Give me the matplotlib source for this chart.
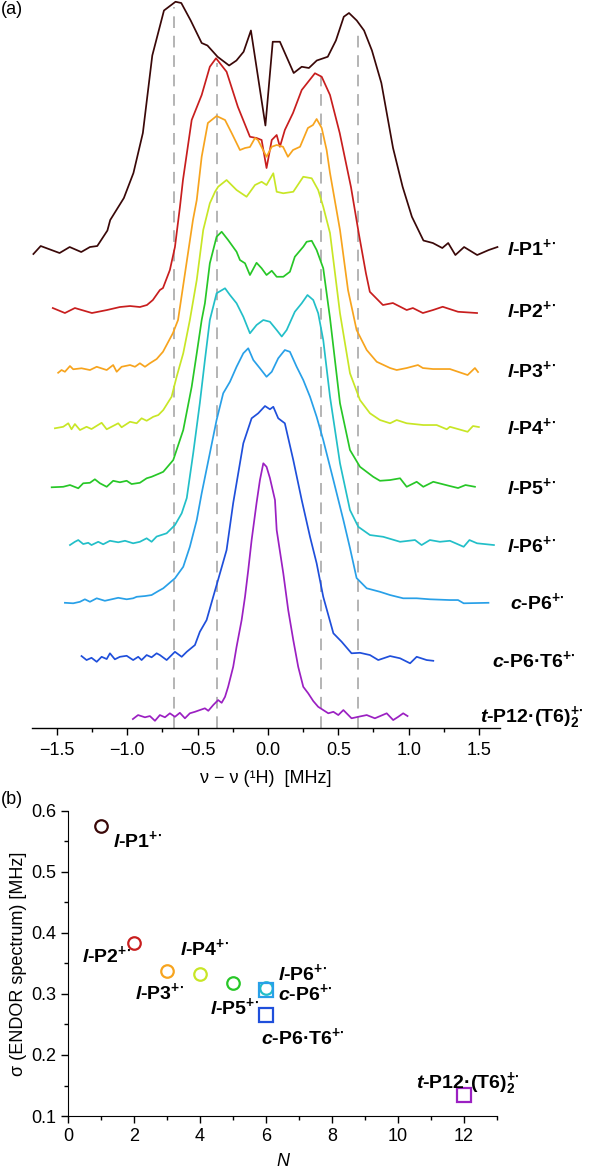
import matplotlib
matplotlib.use('Agg')
import matplotlib.pyplot as plt
from matplotlib.ticker import MultipleLocator

plt.rcParams['font.family'] = ['Liberation Sans', 'DejaVu Sans']
plt.rcParams['mathtext.fontset'] = 'custom'
plt.rcParams['mathtext.rm'] = 'Liberation Sans:bold'
plt.rcParams['mathtext.it'] = 'Liberation Sans:italic:bold'
plt.rcParams['mathtext.bf'] = 'Liberation Sans:bold'

# ---------------- data ----------------
labels = [r"$\mathit{l}$-P1$^{+\!\bullet}$", r"$\mathit{l}$-P2$^{+\!\bullet}$", r"$\mathit{l}$-P3$^{+\!\bullet}$",
          r"$\mathit{l}$-P4$^{+\!\bullet}$", r"$\mathit{l}$-P5$^{+\!\bullet}$", r"$\mathit{l}$-P6$^{+\!\bullet}$",
          r"$\mathit{c}$-P6$^{+\!\bullet}$", r"$\mathit{c}$-P6·T6$^{+\!\bullet}$", r"$\mathit{t}$-P12·(T6)$_2^{+\!\bullet}$"]
colors = ["#3a0808", "#c81e1e", "#f7a41e", "#c8e626", "#27c727", "#22bfc8", "#28a0e8", "#1f4fdb", "#9b20c2"]
offsets = [1.92, 1.672, 1.432, 1.204, 0.964, 0.732, 0.504, 0.272, 0.044]

freq_P1 = [-1.667, -1.615, -1.481, -1.409, -1.327, -1.265, -1.213, -1.141, -1.121, -1.024, -0.956, -0.889, -0.822,
           -0.739, -0.657, -0.616, -0.549, -0.471, -0.430, -0.358, -0.276, -0.224, -0.173, -0.121, -0.018, 0.034,
           0.085, 0.183, 0.240, 0.291, 0.347, 0.425, 0.483, 0.539, 0.576, 0.631, 0.683, 0.739, 0.806, 0.889, 0.957,
           1.023, 1.105, 1.172, 1.239, 1.281, 1.332, 1.394, 1.487, 1.569, 1.631]
int_P1 = [-0.024, 0.008, -0.02, 0.004, -0.016, 0.004, 0.008, 0.07, 0.112, 0.20, 0.30, 0.46, 0.77, 0.95, 0.985,
          0.98, 0.91, 0.82, 0.81, 0.765, 0.73, 0.75, 0.785, 0.87, 0.49, 0.825, 0.825, 0.70, 0.725, 0.72, 0.75,
          0.765, 0.83, 0.925, 0.94, 0.91, 0.87, 0.79, 0.66, 0.40, 0.245, 0.125, 0.03, 0.02, 0.0, 0.02, -0.028, 0.004,
          -0.028, -0.008, 0.004]

freq_P2 = [-1.529, -1.443, -1.372, -1.251, -1.144, -1.052, -0.980, -0.910, -0.860, -0.818, -0.768, -0.746, -0.697,
           -0.661, -0.626, -0.604, -0.542, -0.471, -0.413, -0.369, -0.294, -0.214, -0.128, -0.081, -0.045, -0.010,
           0.027, 0.062, 0.085, 0.120, 0.178, 0.240, 0.334, 0.382, 0.441, 0.510, 0.590, 0.645, 0.696, 0.724, 0.817,
           0.888, 0.986, 1.030, 1.101, 1.173, 1.242, 1.351, 1.486]
int_P2 = [0.008, -0.012, 0.008, -0.012, 0.0, 0.012, 0.016, 0.012, 0.02, 0.04, 0.08, 0.088, 0.16, 0.252, 0.41, 0.52,
          0.76, 0.86, 0.973, 1.007, 0.953, 0.813, 0.693, 0.688, 0.68, 0.568, 0.68, 0.70, 0.653, 0.72, 0.788, 0.88,
          0.947, 0.933, 0.86, 0.708, 0.492, 0.308, 0.148, 0.073, 0.02, 0.028, 0.0, 0.008, -0.012, 0.0, 0.013, -0.007,
          -0.012]

freq_P3 = [-1.491, -1.467, -1.443, -1.407, -1.384, -1.325, -1.265, -1.217, -1.146, -1.100, -1.075, -1.040, -0.980,
           -0.945, -0.910, -0.874, -0.839, -0.791, -0.746, -0.675, -0.639, -0.533, -0.506, -0.471, -0.427, -0.365,
           -0.305, -0.258, -0.199, -0.163, -0.128, -0.092, -0.071, -0.010, 0.027, 0.062, 0.107, 0.142, 0.178, 0.228,
           0.284, 0.320, 0.346, 0.382, 0.417, 0.441, 0.512, 0.569, 0.630, 0.702, 0.773, 0.868, 0.915, 0.986, 1.066,
           1.101, 1.173, 1.293, 1.419, 1.471, 1.493]
int_P3 = [-0.011, 0.0, -0.007, 0.016, 0.003, 0.007, 0.0, 0.013, 0.0, 0.02, -0.007, 0.013, 0.02, 0.013, 0.027, 0.013,
          0.027, 0.044, 0.073, 0.148, 0.20, 0.60, 0.68, 0.853, 0.988, 1.016, 1.0, 0.948, 0.88, 0.888, 0.892, 0.928,
          0.92, 0.853, 0.893, 0.90, 0.893, 0.853, 0.88, 0.893, 0.968, 0.98, 1.004, 0.968, 0.88, 0.788, 0.56, 0.32,
          0.16, 0.08, 0.033, 0.008, 0.0, 0.008, 0.02, 0.008, 0.004, 0.004, -0.02, 0.008, -0.008]

freq_P4 = [-1.514, -1.455, -1.419, -1.396, -1.372, -1.336, -1.289, -1.254, -1.182, -1.146, -1.064, -1.040, -0.980,
           -0.933, -0.898, -0.862, -0.815, -0.779, -0.744, -0.685, -0.649, -0.602, -0.555, -0.506, -0.460, -0.413,
           -0.376, -0.354, -0.294, -0.223, -0.152, -0.092, -0.045, -0.010, 0.038, 0.062, 0.109, 0.180, 0.251, 0.311,
           0.357, 0.393, 0.441, 0.512, 0.583, 0.654, 0.725, 0.796, 0.868, 0.915, 0.986, 1.104, 1.199, 1.271, 1.293,
           1.419, 1.457, 1.499]
int_P4 = [-0.005, 0.001, 0.015, -0.009, 0.012, -0.012, 0.001, -0.008, 0.017, -0.009, 0.015, -0.001, 0.021, 0.015,
          0.035, 0.025, 0.041, 0.048, 0.068, 0.121, 0.201, 0.295, 0.428, 0.588, 0.788, 0.895, 0.941, 0.961, 0.988,
          0.948, 0.921, 0.968, 0.981, 0.968, 1.015, 0.941, 0.935, 0.941, 1.001, 0.995, 0.948, 0.881, 0.776, 0.455,
          0.215, 0.108, 0.055, 0.028, 0.015, 0.028, 0.015, 0.008, 0.008, -0.009, 0.001, -0.019, 0.004, 0.0]

freq_P5 = [-1.537, -1.455, -1.407, -1.348, -1.313, -1.265, -1.230, -1.194, -1.146, -1.100, -1.052, -1.004, -0.969,
           -0.910, -0.862, -0.827, -0.768, -0.744, -0.673, -0.602, -0.542, -0.506, -0.471, -0.448, -0.413, -0.365,
           -0.329, -0.283, -0.223, -0.199, -0.163, -0.128, -0.081, -0.045, -0.010, 0.027, 0.062, 0.109, 0.156, 0.191,
           0.251, 0.275, 0.311, 0.346, 0.393, 0.441, 0.512, 0.583, 0.654, 0.748, 0.796, 0.868, 0.939, 0.986, 1.057,
           1.104, 1.175, 1.293, 1.351, 1.404, 1.471]
int_P5 = [-0.001, 0.001, 0.008, -0.005, 0.015, 0.017, 0.031, 0.015, 0.001, 0.025, 0.019, 0.025, 0.012, 0.017, 0.035,
          0.041, 0.055, 0.061, 0.108, 0.228, 0.401, 0.535, 0.668, 0.735, 0.895, 1.001, 1.021, 0.988, 0.941, 0.908,
          0.895, 0.848, 0.897, 0.875, 0.848, 0.865, 0.841, 0.841, 0.861, 0.921, 0.961, 0.981, 0.985, 0.948, 0.875,
          0.676, 0.335, 0.148, 0.081, 0.041, 0.025, 0.028, 0.035, 0.001, 0.021, 0.001, 0.021, 0.004, -0.004, 0.008,
          0.001]

freq_P6 = [-1.407, -1.372, -1.348, -1.313, -1.277, -1.254, -1.206, -1.171, -1.123, -1.064, -1.016, -0.958, -0.910,
           -0.862, -0.827, -0.791, -0.720, -0.661, -0.613, -0.577, -0.531, -0.484, -0.448, -0.413, -0.365, -0.305,
           -0.270, -0.223, -0.175, -0.128, -0.081, -0.033, 0.014, 0.062, 0.098, 0.133, 0.191, 0.240, 0.281, 0.322,
           0.357, 0.393, 0.441, 0.512, 0.583, 0.642, 0.725, 0.819, 0.939, 1.045, 1.092, 1.151, 1.222, 1.293, 1.391,
           1.432, 1.486, 1.606]
int_P6 = [0.0, 0.013, 0.02, 0.004, 0.009, 0.0, 0.013, 0.003, 0.017, 0.011, 0.017, 0.007, 0.013, 0.027, 0.013, 0.034,
          0.047, 0.08, 0.127, 0.188, 0.368, 0.568, 0.74, 0.90, 1.007, 1.027, 1.0, 0.967, 0.913, 0.847, 0.88, 0.90,
          0.893, 0.86, 0.834, 0.86, 0.933, 0.967, 1.0, 0.98, 0.927, 0.82, 0.593, 0.327, 0.14, 0.073, 0.04, 0.033,
          0.013, 0.02, 0.0, 0.02, 0.013, 0.017, -0.007, 0.02, 0.007, 0.0]

freq_cP6 = [-1.443, -1.384, -1.336, -1.301, -1.265, -1.217, -1.159, -1.111, -1.064, -1.004, -0.958, -0.933, -0.874,
            -0.827, -0.779, -0.744, -0.661, -0.602, -0.555, -0.506, -0.471, -0.413, -0.365, -0.318, -0.270, -0.223,
            -0.175, -0.140, -0.104, -0.057, -0.010, 0.027, 0.073, 0.120, 0.156, 0.204, 0.251, 0.299, 0.346, 0.393,
            0.465, 0.536, 0.583, 0.630, 0.702, 0.796, 0.868, 0.961, 1.057, 1.151, 1.293, 1.351, 1.391, 1.567]
int_cP6 = [-0.003, -0.005, 0.001, 0.011, 0.001, 0.015, 0.005, 0.011, 0.017, 0.011, 0.015, 0.021, 0.024, 0.028, 0.044,
           0.055, 0.095, 0.141, 0.221, 0.328, 0.435, 0.595, 0.728, 0.835, 0.881, 0.941, 0.995, 1.015, 0.968, 0.935,
           0.901, 0.921, 0.975, 1.008, 1.001, 0.941, 0.888, 0.821, 0.741, 0.648, 0.488, 0.328, 0.216, 0.096, 0.055,
           0.041, 0.028, 0.015, 0.015, 0.011, 0.008, 0.008, -0.005, -0.003]

freq_cP6T6 = [-1.325, -1.289, -1.254, -1.217, -1.182, -1.146, -1.123, -1.088, -1.052, -1.004, -0.958, -0.922, -0.898,
              -0.862, -0.827, -0.791, -0.768, -0.720, -0.661, -0.613, -0.577, -0.519, -0.484, -0.436, -0.389, -0.341,
              -0.294, -0.247, -0.175, -0.116, -0.069, -0.021, 0.014, 0.038, 0.073, 0.120, 0.180, 0.240, 0.299, 0.346,
              0.393, 0.465, 0.524, 0.594, 0.654, 0.725, 0.784, 0.868, 0.939, 1.010, 1.057, 1.128, 1.175]
int_cP6T6 = [0.016, 0.0, 0.009, -0.007, 0.013, 0.004, 0.027, 0.003, 0.013, 0.017, 0.0, 0.013, 0.0, 0.02, 0.011, 0.027,
             0.02, 0.0, 0.033, 0.013, 0.033, 0.06, 0.113, 0.16, 0.253, 0.347, 0.44, 0.628, 0.867, 0.967, 0.987, 1.016,
             1.003, 1.013, 0.967, 0.947, 0.80, 0.64, 0.493, 0.387, 0.253, 0.107, 0.073, 0.027, 0.029, 0.02, 0.0,
             0.016, 0.007, -0.013, 0.013, 0.0, -0.003]

freq_tP12 = [-0.960, -0.923, -0.874, -0.839, -0.803, -0.768, -0.732, -0.697, -0.661, -0.626, -0.590, -0.555, -0.519,
             -0.484, -0.448, -0.424, -0.389, -0.354, -0.329, -0.305, -0.283, -0.247, -0.223, -0.187, -0.163, -0.140,
             -0.116, -0.081, -0.057, -0.033, -0.010, 0.014, 0.050, 0.062, 0.109, 0.144, 0.156, 0.180, 0.215, 0.251,
             0.286, 0.322, 0.357, 0.393, 0.429, 0.465, 0.500, 0.536, 0.594, 0.642, 0.702, 0.760, 0.844, 0.890, 0.926,
             0.961, 0.992]
int_tP12 = [-0.008, 0.008, -0.001, 0.004, -0.015, 0.008, -0.001, 0.015, 0.001, 0.017, -0.005, 0.015, 0.021, 0.028,
            0.035, 0.025, 0.048, 0.068, 0.057, 0.081, 0.121, 0.201, 0.281, 0.388, 0.481, 0.588, 0.708, 0.856, 0.948,
            1.015, 1.001, 0.956, 0.868, 0.748, 0.575, 0.428, 0.388, 0.308, 0.201, 0.121, 0.095, 0.064, 0.041, 0.028,
            0.015, 0.021, 0.008, 0.028, -0.005, 0.001, 0.008, -0.005, 0.015, -0.012, 0.001, 0.015, 0.004]

freqs = [freq_P1, freq_P2, freq_P3, freq_P4, freq_P5, freq_P6, freq_cP6, freq_cP6T6, freq_tP12]
ints = [int_P1, int_P2, int_P3, int_P4, int_P5, int_P6, int_cP6, int_cP6T6, int_tP12]

dash_pos = [-0.668, -0.3625, 0.377, 0.640]
dash_top = [2.884, 2.66, 2.604, 2.80]

# panel (b)
N_vals = [1, 2, 3, 4, 5, 6, 6, 6, 12]
sigma_vals = [0.575, 0.384, 0.337, 0.332, 0.318, 0.309, 0.306, 0.266, 0.135]
markers = ['o', 'o', 'o', 'o', 'o', 'o', 's', 's', 's']
lab_N = [1.35, 0.41, 2.02, 3.39, 4.29, 6.36, 6.36, 5.86, 10.55]
lab_sigma = [0.552, 0.3635, 0.303, 0.375, 0.279, 0.334, 0.301, 0.2295, 0.1535]

# ---------------- figure ----------------
fig = plt.figure(figsize=(6.0, 11.69), dpi=100)

ax = fig.add_axes([0.0533, 0.3772, 0.78, 0.6228])
for f, i, off, c in zip(freqs, ints, offsets, colors):
    ax.plot(f, [off + v for v in i], color=c, lw=1.25, zorder=3, solid_joinstyle='round')
for xp, top in zip(dash_pos, dash_top):
    ax.plot([xp, xp], [0, top], color='#b4b4b4', lw=1.4, ls=(0, (6, 4)), zorder=1)
lab_x = [1.699, 1.699, 1.699, 1.699, 1.699, 1.699, 1.72, 1.59, 1.507]
for lab, off, lx in zip(labels, offsets, lab_x):
    ax.text(lx, off, lab, fontsize=14, fontweight='bold', ha='left', va='center', clip_on=False)

ax.set_xlim(-1.677, 1.649)
ax.set_ylim(0, 2.912)
for s in ['left', 'right', 'top']:
    ax.spines[s].set_visible(False)
ax.spines['bottom'].set_linewidth(1.0)
ax.set_yticks([])
ax.xaxis.set_minor_locator(MultipleLocator(0.25))
ax.set_xticks([-1.5, -1.0, -0.5, 0.0, 0.5, 1.0, 1.5])
ax.set_xticklabels(["\u22121.5", "\u22121.0", "\u22120.5", "0.0", "0.5", "1.0", "1.5"])
ax.tick_params(axis='x', which='major', direction='out', length=5, width=1, labelsize=13, pad=5)
ax.tick_params(axis='x', which='minor', direction='out', length=3, width=1)
ax.set_xlabel("\u03bd \u2212 \u03bd (\u00b9H)  [MHz]", fontsize=13, labelpad=8)
ax.patch.set_alpha(0)

fig.text(0.002, 0.992, "(a)", fontsize=13, ha='left', va='center')
fig.text(0.002, 0.316, "(b)", fontsize=13, ha='left', va='center')

# panel (b)
ax2 = fig.add_axes([0.1138, 0.0453, 0.714, 0.2612])
for n, s, m, c in zip(N_vals, sigma_vals, markers, colors):
    ax2.plot([n], [s], marker=m, ms=9 if m == 'o' else 10, mfc='none', mec=c, mew=1.6, ls='none', clip_on=False)
for lab, n, s in zip(labels, lab_N, lab_sigma):
    ax2.text(n, s, lab, fontsize=14, fontweight='bold', ha='left', va='center', clip_on=False)
ax2.set_xlim(0, 13)
ax2.set_ylim(0.1, 0.6)
ax2.spines['right'].set_visible(False)
ax2.spines['top'].set_visible(False)
ax2.xaxis.set_major_locator(MultipleLocator(2))
ax2.xaxis.set_minor_locator(MultipleLocator(1))
ax2.yaxis.set_major_locator(MultipleLocator(0.1))
ax2.yaxis.set_minor_locator(MultipleLocator(0.05))
ax2.tick_params(which='major', direction='out', length=5, width=1, labelsize=13)
ax2.tick_params(which='minor', direction='out', length=3, width=1)
ax2.set_xlabel("N", fontsize=13, style='italic', labelpad=6)
ax2.set_ylabel("\u03c3 (ENDOR spectrum) [MHz]", fontsize=13, labelpad=3)
ax2.patch.set_alpha(0)

fig.savefig("out.png", dpi=100)
